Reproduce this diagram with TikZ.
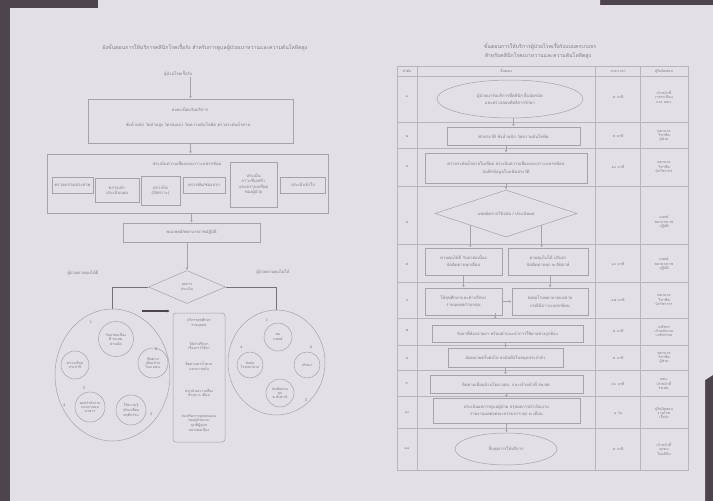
\documentclass[tikz,border=0pt]{standalone}
\usepackage{fontspec}
\newfontfamily\thai[Script=Thai]{Loma}
\usetikzlibrary{arrows.meta,shapes.geometric,calc}
\definecolor{paper}{RGB}{226,223,229}
\definecolor{darkbg}{RGB}{78,68,76}
\definecolor{lineC}{RGB}{166,161,170}
\definecolor{txtC}{RGB}{128,122,134}
\definecolor{connC}{RGB}{118,112,122}
\begin{document}
\begin{tikzpicture}[x=1pt,y=-1pt,
 tx/.style={text=txtC,font=\thai\fontsize{4.2}{5.4}\selectfont,align=center,inner sep=0pt},
 ttl/.style={tx,font=\thai\fontsize{5.2}{6.6}\selectfont},
 sm/.style={tx,font=\thai\fontsize{3.6}{4.4}\selectfont},
 box/.style={draw=lineC,line width=0.5pt,tx,rectangle,inner sep=0pt},
 rbox/.style={box,rounded corners=3pt},
 cir/.style={draw=lineC,line width=0.5pt,circle,sm,inner sep=0pt},
 ell/.style={draw=lineC,line width=0.5pt,ellipse,tx,inner sep=0pt},
 dia/.style={draw=lineC,line width=0.5pt,diamond,inner sep=0pt},
 arr/.style={draw=lineC,line width=0.5pt,-{Latex[length=2.6pt,width=2.4pt]}},
 conn/.style={draw=connC,line width=0.9pt},
 gridl/.style={draw=lineC!70!paper,line width=0.45pt},
 cmark/.style={tx,text=connC,font=\fontsize{4}{4}\selectfont}
]
\useasboundingbox (0,0) rectangle (713,501);
\fill[darkbg] (0,0) rectangle (713,501);
\fill[paper] (10,8) -- (98,8) -- (98,0) -- (600,0) -- (600,5) -- (713,5) -- (713,375) -- (705,380) -- (705,501) -- (10,501) -- cycle;

% ================= LEFT DIAGRAM =================
\node[ttl] (lt) at (205,47) {ผังขั้นตอนการให้บริการคลินิกโรคเรื้อรัง สำหรับการดูแลผู้ป่วยเบาหวานและความดันโลหิตสูง};
\node[tx] (ls) at (178,74) {ผู้ป่วยโรคเรื้อรัง};

\node[box,minimum width=205,minimum height=44] (lb1) at (190.5,121) {};
\node[tx] (lb1a) at (190,110) {ลงทะเบียนรับบริการ};
\node[tx] (lb1b) at (188,125) {ชั่งน้ำหนัก วัดส่วนสูง วัดรอบเอว วัดความดันโลหิต ตรวจระดับน้ำตาล};

\node[box,minimum width=281,minimum height=59] (lb2) at (187.5,183.5) {};
\node[tx] (lb2t) at (187,163) {ประเมินความเสี่ยงและภาวะแทรกซ้อน};
\node[box,minimum width=41,minimum height=16] (i1) at (72.5,185) {ตรวจตา/จอประสาท};
\node[box,minimum width=44,minimum height=24] (i2) at (117,190) {ตรวจเท้า\\ประเมินแผล};
\node[box,minimum width=39,minimum height=29] (i3) at (160.5,190.5) {ตรวจไต\\(ปัสสาวะ)};
\node[box,minimum width=42,minimum height=16] (i4) at (204,185) {ตรวจฟัน/ช่องปาก};
\node[box,minimum width=47,minimum height=45] (i5) at (253.5,184.5) {ประเมิน\\ภาวะซึมเศร้า\\และความเครียด\\ของผู้ป่วย};
\node[box,minimum width=45,minimum height=16] (i6) at (303,185) {ประเมินหัวใจ};

\node[box,minimum width=137,minimum height=19] (lb3) at (191.5,232.5) {พบแพทย์/พยาบาลเวชปฏิบัติ};

\node[dia,minimum width=77,minimum height=33] (ld) at (187,287) {};
\node[sm] (ldt) at (187,287) {ผลการ\\ประเมิน};

\node[tx] (lll) at (83,273) {ผู้ป่วยควบคุมได้ดี};
\node[tx] (llr) at (273,272) {ผู้ป่วยควบคุมไม่ได้};

\draw[arr] (ls.south -| lb1.north) -- (lb1.north);
\draw[arr] (lb1.south) -- (lb1.south |- lb2.north);
\draw[arr] (lb3.north |- lb2.south) -- (lb3.north);
\draw[arr] (ld.north |- lb3.south) -- (ld.north);

% left circle group
\node[ell,minimum width=115,minimum height=132] (L) at (112.5,375) {};
\node[cir,minimum size=35] (L1) at (116,339) {รับยาต่อเนื่อง\\ที่ รพ.สต.\\ตามนัด};
\node[cir,minimum size=30] (L2) at (153,363) {ติดตาม\\เยี่ยมบ้าน\\โดย อสม.};
\node[cir,minimum size=30] (L3) at (131,410) {ให้ความรู้\\ปรับเปลี่ยน\\พฤติกรรม};
\node[cir,minimum size=30] (L4) at (90,407) {ออกกำลังกาย\\และควบคุม\\อาหาร};
\node[cir,minimum size=28] (L5) at (75,365) {ตรวจเลือด\\ประจำปี};
\node[cmark] (m1) at (91,322) {1};
\node[cmark] (m2) at (156,349) {2};
\node[cmark] (m3) at (151,414) {3};
\node[cmark] (m4) at (64,405) {4};
\node[cmark] (m5) at (84,388) {5};

% right circle group
\node[ell,minimum width=97,minimum height=105] (R) at (276.5,362.5) {};
\node[cir,minimum size=28] (R1) at (278,337) {พบ\\แพทย์};
\node[cir,minimum size=26] (R2) at (307,365) {ปรับยา};
\node[cir,minimum size=28] (R3) at (280,393) {นัดติดตาม\\ทุก\\๒ สัปดาห์};
\node[cir,minimum size=26] (R4) at (250,365) {ส่งต่อ\\โรงพยาบาล};
\node[cmark] (n1) at (267,320) {1};
\node[cmark] (n2) at (311,347) {2};
\node[cmark] (n3) at (306,400) {3};
\node[cmark] (n4) at (241,347) {4};

\draw[conn] (ld.west) -| (L.north);
\draw[conn] (ld.east) -| (R.north);

\coordinate (ta1) at (142,311);
\coordinate (ta2) at (170,311);
\draw[darkbg,line width=1.3pt,-{Latex[length=3.2pt,width=3.2pt]}] (ta1) -- (ta2);

% middle box
\node[rbox,minimum width=52,minimum height=129] (M) at (199,377.5) {};
\node[sm] (M1) at (199,323) {บริการสุขศึกษา\\รายบุคคล};
\node[sm] (M2) at (199,346) {ให้คำปรึกษา\\เรื่องการใช้ยา};
\node[sm] (M3) at (199,366) {ติดตามค่าน้ำตาล\\และความดัน};
\node[sm] (M4) at (199,393) {ประเมินความเสี่ยง\\ซ้ำทุก ๓ เดือน};
\node[sm] (M5) at (199,423) {ส่งเสริมการดูแลตนเอง\\ของผู้ป่วยและ\\ญาติผู้ดูแล\\อย่างต่อเนื่อง};

% ================= RIGHT DIAGRAM =================
\node[ttl] (rt1) at (540,46) {ขั้นตอนการให้บริการผู้ป่วยโรคเรื้อรังแบบครบวงจร};
\node[ttl] (rt2) at (538,56) {สำหรับคลินิกโรคเบาหวานและความดันโลหิตสูง};

\draw[gridl] (397,66) rectangle (688,470);
\foreach \yy in {76,122,148,186,244,282,318,345,370,396,428}
  \draw[gridl] (397,\yy) -- (688,\yy);
\foreach \xx in {417,595,640}
  \draw[gridl] (\xx,66) -- (\xx,470);

\node[sm] (h1) at (407,71) {ลำดับ};
\node[sm] (h2) at (506,71) {ขั้นตอน};
\node[sm] (h3) at (618,71) {ระยะเวลา};
\node[sm] (h4) at (664,71) {ผู้รับผิดชอบ};

\foreach \nn/\yy/\tm/\rsp in {
 ๑/97/{๕ นาที}/{เจ้าหน้าที่\\เวชระเบียน\\และ อสม.},
 ๒/136/{๕ นาที}/{พยาบาล\\วิชาชีพ\\ผู้ช่วย},
 ๓/167/{๑๐ นาที}/{พยาบาล\\วิชาชีพ\\นักวิชาการ},
 ๔/222/{}/{แพทย์\\พยาบาลเวช\\ปฏิบัติ},
 ๕/264/{๑๐ นาที}/{แพทย์\\พยาบาลเวช\\ปฏิบัติ},
 ๖/300/{๑๕ นาที}/{พยาบาล\\วิชาชีพ\\นักวิชาการ},
 ๗/331/{๕ นาที}/{เภสัชกร\\เจ้าพนักงาน\\เภสัชกรรม},
 ๘/358/{๕ นาที}/{พยาบาล\\วิชาชีพ\\ผู้ช่วย},
 ๙/384/{๓๐ นาที}/{อสม.\\เจ้าหน้าที่\\รพ.สต.},
 ๑๐/413/{๑ วัน}/{ผู้รับผิดชอบ\\งานโรค\\เรื้อรัง},
 ๑๑/449/{๕ นาที}/{เจ้าหน้าที่\\ทุกคน\\ในคลินิก}}
{
  \node[sm] (num\yy) at (407,\yy) {\nn};
  \node[sm] (tim\yy) at (618,\yy) {\tm};
  \node[sm] (rsp\yy) at (664,\yy) {\rsp};
}

\node[ell,minimum width=146,minimum height=38] (o1) at (510,99) {ผู้ป่วยมารับบริการที่คลินิก ยื่นบัตรนัด\\[2pt]และตรวจสอบสิทธิการรักษา};
\node[box,minimum width=133,minimum height=18] (r2) at (513.5,136) {ซักประวัติ ชั่งน้ำหนัก วัดความดันโลหิต};
\node[box,minimum width=162,minimum height=30] (r3) at (506,168) {ตรวจระดับน้ำตาลในเลือด ประเมินความเสี่ยงและภาวะแทรกซ้อน\\[3pt]บันทึกข้อมูลในแฟ้มประวัติ};
\node[dia,minimum width=142,minimum height=47] (r4) at (506,213.5) {};
\node[tx] (r4t) at (506,213.5) {แพทย์ตรวจวินิจฉัย / ประเมินผล};
\node[box,minimum width=77,minimum height=27] (r5a) at (463.5,261.5) {ควบคุมได้ดี รับยาต่อเนื่อง\\[2pt]นัดติดตามทุกเดือน};
\node[box,minimum width=80,minimum height=27] (r5b) at (548,261.5) {ควบคุมไม่ได้ ปรับยา\\[2pt]นัดติดตามทุก ๒ สัปดาห์};
\node[box,minimum width=77,minimum height=27] (r6a) at (463.5,301.5) {ให้สุขศึกษาและคำปรึกษา\\[2pt]รายบุคคล/รายกลุ่ม};
\node[box,minimum width=76,minimum height=27] (r6b) at (550,301.5) {ส่งต่อโรงพยาบาลแม่ข่าย\\[2pt]กรณีมีภาวะแทรกซ้อน};
\node[box,minimum width=151,minimum height=17] (r7) at (507.5,333.5) {รับยาที่ห้องจ่ายยา พร้อมคำแนะนำการใช้ยาอย่างถูกต้อง};
\node[box,minimum width=115,minimum height=19] (r8) at (505.5,357.5) {นัดหมายครั้งต่อไป ลงบันทึกในสมุดประจำตัว};
\node[box,minimum width=153,minimum height=18] (r9) at (506.5,384) {ติดตามเยี่ยมบ้านโดย อสม. และเจ้าหน้าที่ รพ.สต.};
\node[box,minimum width=147,minimum height=25] (r10) at (506.5,410.5) {ประเมินผลการดูแลผู้ป่วย สรุปผลการดำเนินงาน\\[2pt]รายงานผลต่อคณะกรรมการ ทุก ๓ เดือน};
\node[ell,minimum width=102,minimum height=32] (o2) at (506,449) {สิ้นสุดการให้บริการ};

\draw[arr] (r2.north |- o1.south) -- (r2.north);
\draw[arr] (r2.south -| r3.north) -- (r3.north);
\draw[arr] (r3.south) -- (r4.north);
\draw[arr] (r4.south west) -- (r4.south west |- r5a.north);
\draw[arr] (r4.south east) -- (r4.south east |- r5b.north);
\draw[arr] (r5a.south) -- (r6a.north);
\draw[arr] (r6b.north |- r5b.south) -- (r6b.north);
\draw[arr] (r6a.east) -- (r6b.west);
\draw[arr] ($(r6a.south east)+(-7,0)$) -- ($(r6a.south east)+(-7,0)$ |- r7.north);
\draw[arr] (r8.north |- r7.south) -- (r8.north);
\draw[arr] (r8.south) -- (r8.south |- r9.north);
\draw[arr] (r9.south) -- (r10.north);
\draw[arr] (r10.south) -- (r10.south |- o2.north);
\end{tikzpicture}
\end{document}
